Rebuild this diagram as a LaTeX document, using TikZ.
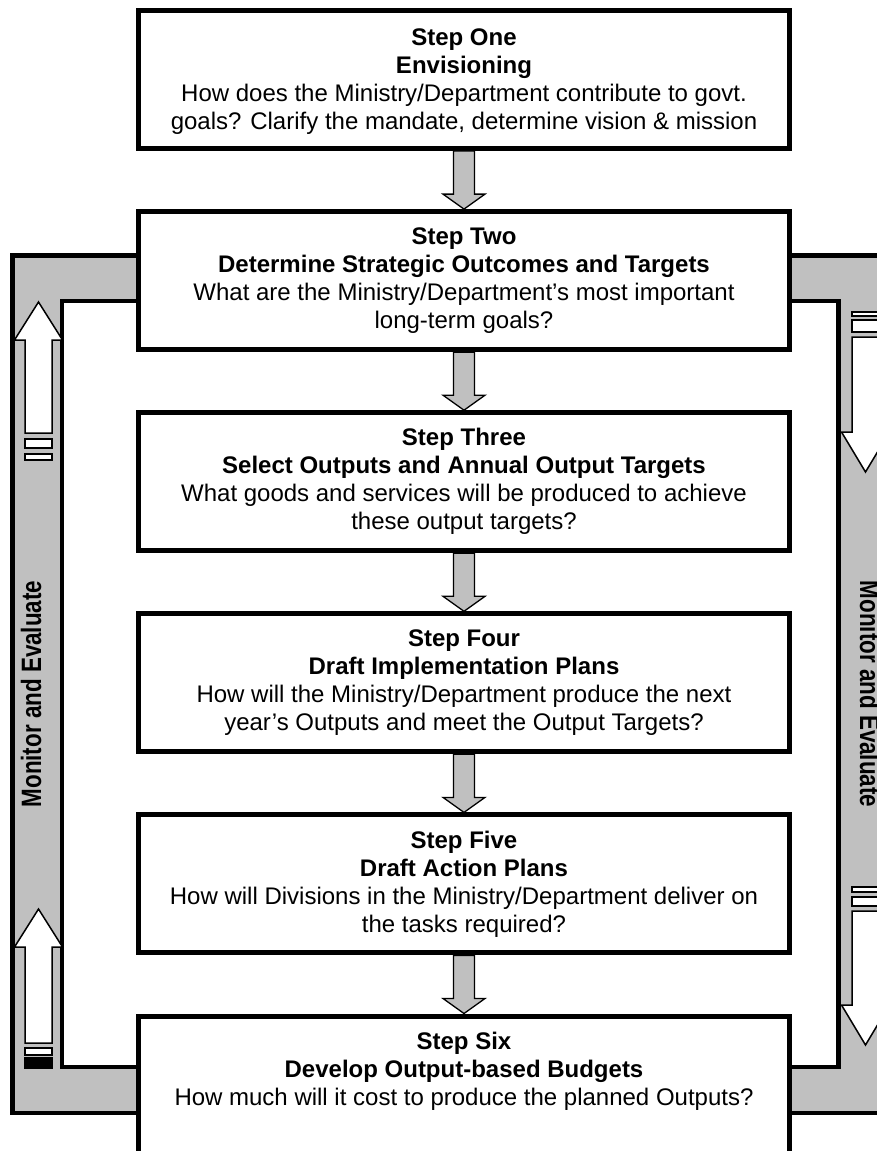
\documentclass[tikz,border=0pt]{standalone}
\usepackage{fontspec}
\setmainfont{Liberation Sans}
\usetikzlibrary{calc}
\definecolor{bandgray}{RGB}{192,192,192}
\begin{document}
\begin{tikzpicture}[x=1pt,y=-1pt,
  box/.style={draw=black, line width=5pt, fill=white, minimum width=651pt, minimum height=138pt, inner sep=0pt},
  txt/.style={align=center, font=\fontsize{24}{28}\selectfont, inner sep=0pt},
  band/.style={fill=bandgray, draw=black, line width=4.5pt, line join=miter},
  flow/.style={fill=bandgray, draw=black, line width=1.3pt, line join=miter},
  mearrow/.style={fill=white, draw=black, line width=1.5pt, line join=miter},
  stripe/.style={fill=white, draw=black, line width=1.5pt},
  metext/.style={inner sep=0pt, font=\fontsize{28}{28}\selectfont\bfseries}]
\useasboundingbox (0,0) rectangle (877,1151);
\clip (0,0) rectangle (877,1151);

% monitoring bands
\path[band] (138.5,255.5) -- (12.5,255.5) -- (12.5,1113) -- (138.5,1113) -- (138.5,1067) -- (62,1067) -- (62,301) -- (138.5,301) -- cycle;
\path[band] (789.5,255.5) -- (888.5,255.5) -- (888.5,1113) -- (789.5,1113) -- (789.5,1067) -- (838.5,1067) -- (838.5,301) -- (789.5,301) -- cycle;

\node[metext, rotate=90] (mleft) at (31,694) {\scalebox{0.8}[1]{Monitor and Evaluate}};
\node[metext, rotate=-90] (mright) at (870,694) {\scalebox{0.8}[1]{Monitor and Evaluate}};

% striped arrows on the left (up)
\draw[mearrow] (38.5,302) -- (62.5,340) -- (52,340) -- (52,433) -- (25,433) -- (25,340) -- (14.5,340) -- cycle;
\draw[stripe] (25,439) rectangle (52,448);
\draw[stripe] (25,454) rectangle (52,460);
\draw[mearrow] (38.5,909) -- (62.5,947) -- (52,947) -- (52,1043) -- (25,1043) -- (25,947) -- (14.5,947) -- cycle;
\draw[stripe] (25,1048) rectangle (52,1055);
\draw[stripe, fill=black] (25,1058) rectangle (52,1068);

% striped arrows on the right (down)
\draw[stripe] (852,312) rectangle (879,316);
\draw[stripe] (852,320) rectangle (879,332);
\draw[mearrow] (852,337) -- (879,337) -- (879,432) -- (889.5,432) -- (865.5,472) -- (841.5,432) -- (852,432) -- cycle;
\draw[stripe] (852,887) rectangle (879,892);
\draw[stripe] (852,897) rectangle (879,906);
\draw[mearrow] (852,911) -- (879,911) -- (879,1005) -- (889.5,1005) -- (865.5,1045) -- (841.5,1005) -- (852,1005) -- cycle;

% step boxes
\node[box] (s1) at (464,79.5) {};
\node[box] (s2) at (464,280.6) {};
\node[box] (s3) at (464,481.7) {};
\node[box] (s4) at (464,682.8) {};
\node[box] (s5) at (464,883.9) {};
\node[box] (s6) at (464,1085) {};

\node[txt, anchor=north] (t1) at ($(s1.north)+(0,21)$) {\textbf{Step One}\\\textbf{Envisioning}\\How does the Ministry/Department contribute to govt.\\goals? Clarify the mandate, determine vision \& mission};
\node[txt, anchor=north] (t2) at ($(s2.north)+(0,18)$) {\textbf{Step Two}\\\textbf{Determine Strategic Outcomes and Targets}\\What are the Ministry/Department’s most important\\long-term goals?};
\node[txt, anchor=north] (t3) at ($(s3.north)+(0,18)$) {\textbf{Step Three}\\\textbf{Select Outputs and Annual Output Targets}\\What goods and services will be produced to achieve\\these output targets?};
\node[txt, anchor=north] (t4) at ($(s4.north)+(0,18)$) {\textbf{Step Four}\\\textbf{Draft Implementation Plans}\\How will the Ministry/Department produce the next\\year’s Outputs and meet the Output Targets?};
\node[txt, anchor=north] (t5) at ($(s5.north)+(0,18)$) {\textbf{Step Five}\\\textbf{Draft Action Plans}\\How will Divisions in the Ministry/Department deliver on\\the tasks required?};
\node[txt, anchor=north] (t6) at ($(s6.north)+(0,18)$) {\textbf{Step Six}\\\textbf{Develop Output-based Budgets}\\How much will it cost to produce the planned Outputs?};

% flow arrows between steps
\foreach \a/\b in {s1/s2,s2/s3,s3/s4,s4/s5,s5/s6}{
  \draw[flow] ($(\a.south)+(-10.5,0)$) -- ($(\b.north)+(-10.5,-15)$) -- ($(\b.north)+(-21,-15)$) -- (\b.north) -- ($(\b.north)+(21,-15)$) -- ($(\b.north)+(10.5,-15)$) -- ($(\a.south)+(10.5,0)$) -- cycle;
}
\end{tikzpicture}
\end{document}
